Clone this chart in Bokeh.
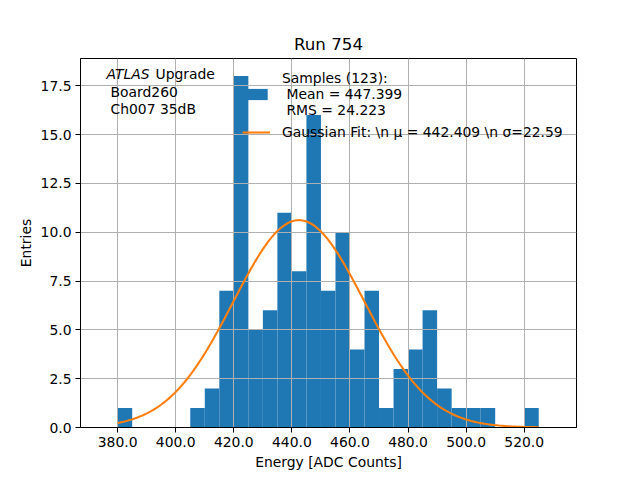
import numpy as np
from bokeh.plotting import figure
from bokeh.models import Range1d, FixedTicker, NumeralTickFormatter, Label, Legend, LegendItem
from bokeh.embed import file_html
from bokeh.resources import INLINE

# histogram bins (ADC counts) and entries per bin
bin_edges = [380, 385, 390, 395, 400, 405, 410, 415, 420, 425,
             430, 435, 440, 445, 450, 455, 460, 465, 470, 475,
             480, 485, 490, 495, 500, 505, 510, 515, 520, 525]
counts = [1, 0, 0, 0, 0, 1, 2, 7, 18, 5,
          6, 11, 8, 16, 7, 10, 4, 7, 1, 3,
          4, 6, 2, 1, 1, 1, 0, 0, 1]

n_samples = 123
sample_mean = 447.399
sample_rms = 24.223

# gaussian fit parameters
fit_mu = 442.409
fit_sigma = 22.59
fit_amplitude = 10.62
fit_start = 380.0
fit_end = 525.0

x_ticks = [380, 400, 420, 440, 460, 480, 500, 520]
y_ticks = [0, 2.5, 5, 7.5, 10, 12.5, 15, 17.5]

FONT = "DejaVu Sans"
FS = "13.9px"

p = figure(
    width=632, height=472,
    output_backend="svg", toolbar_location=None,
    x_range=Range1d(367.2, 538.0), y_range=Range1d(0, 18.9),
    min_border_left=80, min_border_right=56,
    min_border_top=58, min_border_bottom=45,
    title="Run 754",
    x_axis_label="Energy [ADC Counts]", y_axis_label="Entries",
)

bars = p.quad(left=bin_edges[:-1], right=bin_edges[1:], top=counts, bottom=0,
              fill_color="#1f77b4", line_color=None, level="image")

fit_x = np.linspace(fit_start, fit_end, 300)
fit_y = fit_amplitude * np.exp(-0.5 * ((fit_x - fit_mu) / fit_sigma) ** 2)
curve = p.line(fit_x, fit_y, line_color="#ff7f0e", line_width=2.1)

p.title.align = "center"
p.title.text_font = FONT
p.title.text_font_size = "16.7px"
p.title.text_font_style = "normal"
p.title.text_color = "black"

p.outline_line_color = "black"
p.outline_line_alpha = 1
p.outline_line_width = 1

for ax in (p.xaxis[0], p.yaxis[0]):
    ax.major_label_text_font = FONT
    ax.major_label_text_font_size = FS
    ax.major_label_text_color = "black"
    ax.axis_label_text_font = FONT
    ax.axis_label_text_font_size = FS
    ax.axis_label_text_font_style = "normal"
    ax.axis_label_text_color = "black"
    ax.minor_tick_line_color = None
    ax.major_tick_in = 0
    ax.major_tick_out = 5
    ax.major_label_standoff = 4
    ax.axis_label_standoff = 4
    ax.axis_line_color = "black"
    ax.major_tick_line_color = "black"

p.xaxis.ticker = FixedTicker(ticks=x_ticks)
p.yaxis.ticker = FixedTicker(ticks=y_ticks)
p.xaxis.formatter = NumeralTickFormatter(format="0.0")
p.yaxis.formatter = NumeralTickFormatter(format="0.0")

for g in (p.xgrid[0], p.ygrid[0]):
    g.grid_line_color = "#b0b0b0"
    g.grid_line_width = 1

samples_label = f"Samples ({n_samples}):\n Mean = {sample_mean}\n RMS = {sample_rms}"
fit_label = f"Gaussian Fit: \\n \u03bc = {fit_mu} \\n \u03c3={fit_sigma}"

legend = Legend(
    items=[LegendItem(label=samples_label, renderers=[bars]),
           LegendItem(label=fit_label, renderers=[curve])],
    location=(162, 287),
    border_line_alpha=0, background_fill_alpha=0,
    padding=0, margin=0, spacing=6,
    glyph_width=28, glyph_height=14, label_standoff=12,
    label_text_font=FONT, label_text_font_size=FS,
    label_text_color="black",
    label_text_line_height=1.6,
)
p.add_layout(legend)

# ATLAS text, top left
atlas_style = dict(x_units="screen", y_units="screen", text_font=FONT,
                   text_font_size=FS, text_color="black")
p.add_layout(Label(x=26, y=346, text="ATLAS", text_font_style="italic", **atlas_style))
p.add_layout(Label(x=75, y=346, text="Upgrade", **atlas_style))
p.add_layout(Label(x=30, y=328, text="Board260", **atlas_style))
p.add_layout(Label(x=30, y=311, text="Ch007 35dB", **atlas_style))

open("out.html", "w").write(file_html(p, INLINE))
